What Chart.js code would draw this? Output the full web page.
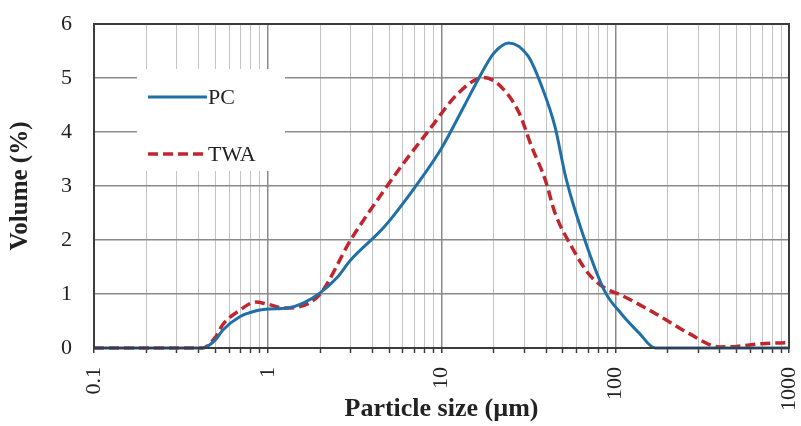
<!DOCTYPE html>
<html>
<head>
<meta charset="utf-8">
<script src="https://cdn.jsdelivr.net/npm/chart.js@4.4.1/dist/chart.umd.min.js"></script>
<style>
  html, body { margin: 0; padding: 0; background: #fff; }
  #wrap { width: 801px; height: 426px; position: relative; }
</style>
</head>
<body>
<div id="wrap"><canvas id="psd"></canvas></div>
<script>
// particle size distribution
const pcSize = [0.1, 0.2, 0.3, 0.42, 0.5, 0.55, 0.69, 0.86, 1.0, 1.3, 1.6, 2.0, 2.5, 3.0, 4.7, 7.3, 10, 13.6, 17, 20, 24.4, 31.6, 37.8, 45, 52, 70, 88, 108, 137, 170, 250, 500, 1000];
const pcVolume = [0, 0, 0, 0, 0.15, 0.33, 0.58, 0.69, 0.72, 0.74, 0.83, 1.02, 1.3, 1.63, 2.25, 3.05, 3.7, 4.5, 5.09, 5.46, 5.65, 5.4, 4.84, 4.1, 3.15, 1.81, 1.02, 0.64, 0.28, 0, 0, 0, 0];

const twaSize = [0.1, 0.2, 0.3, 0.42, 0.5, 0.55, 0.69, 0.85, 1.0, 1.25, 1.5, 2.0, 3.0, 4.7, 5.85, 8.5, 12.5, 17.5, 22, 28, 33, 39.6, 45, 56, 70, 88, 108, 170, 265, 400, 500, 700, 1000];
const twaVolume = [0, 0, 0, 0, 0.2, 0.43, 0.7, 0.85, 0.81, 0.74, 0.76, 1.0, 2.0, 2.93, 3.36, 4.04, 4.72, 5.01, 4.84, 4.35, 3.73, 3.11, 2.5, 1.88, 1.38, 1.1, 0.98, 0.64, 0.27, 0.02, 0.03, 0.08, 0.1];

const seriesNames = ["PC", "TWA"];
const xDecades = [0.1, 1, 10, 100, 1000];
const yLabels = [0, 1, 2, 3, 4, 5, 6];

const serif = "'Liberation Serif', 'Times New Roman', serif";
const blue = "#2070a8";
const red = "#c0262e";
const major = "#8a8a8a";
const minor = "#c2c2c2";

function pts(xs, ys) {
  return xs.map((x, i) => ({ x: x, y: ys[i] }));
}

function isDecade(v) {
  return xDecades.some(d => Math.abs(d - v) < 1e-9);
}

// no extra room for labels hanging over the ends
function noPad(scale) {
  scale.paddingLeft = 0;
  scale.paddingRight = 0;
  scale.paddingTop = 0;
  scale.paddingBottom = 0;
}

// frame round the plot
const frame = {
  id: "frame",
  afterDraw(chart) {
    const a = chart.chartArea, ctx = chart.ctx;
    ctx.save();
    ctx.strokeStyle = "#3c3c3c";
    ctx.lineWidth = 2;
    ctx.strokeRect(a.left, a.top, a.right - a.left, a.bottom - a.top);
    ctx.restore();
  }
};

// legend box inside the plot
const boxLegend = {
  id: "boxLegend",
  afterDraw(chart) {
    const a = chart.chartArea, ctx = chart.ctx;
    const x = a.left + 43, y = a.top + 45;
    ctx.save();
    ctx.fillStyle = "#fff";
    ctx.fillRect(x, y, 148, 102);
    chart.data.datasets.forEach((ds, i) => {
      const ly = y + 28 + i * 57;
      ctx.strokeStyle = ds.borderColor;
      ctx.lineWidth = ds.borderWidth;
      ctx.setLineDash(ds.borderDash || []);
      ctx.beginPath();
      ctx.moveTo(x + 11, ly);
      ctx.lineTo(x + 70, ly);
      ctx.stroke();
      ctx.setLineDash([]);
      ctx.fillStyle = "#222";
      ctx.font = "22px " + serif;
      ctx.textBaseline = "middle";
      ctx.fillText(ds.label, x + 71, ly + 1);
    });
    ctx.restore();
  }
};

new Chart(document.getElementById("psd"), {
  type: "line",
  data: {
    datasets: [
      {
        label: seriesNames[0],
        data: pts(pcSize, pcVolume),
        borderColor: blue,
        borderWidth: 3,
        pointRadius: 0,
        cubicInterpolationMode: "monotone",
        clip: 5
      },
      {
        label: seriesNames[1],
        data: pts(twaSize, twaVolume),
        borderColor: red,
        borderWidth: 3.5,
        borderDash: [10, 5],
        pointRadius: 0,
        cubicInterpolationMode: "monotone",
        clip: 5
      }
    ]
  },
  options: {
    responsive: true,
    maintainAspectRatio: false,
    animation: false,
    layout: { padding: { left: 6, right: 12, top: 24, bottom: 1 } },
    plugins: {
      legend: { display: false },
      tooltip: { enabled: false }
    },
    scales: {
      x: {
        type: "logarithmic",
        min: 0.1,
        max: 1000,
        afterBuildTicks(scale) {
          const t = [];
          for (let e = -1; e < 3; e++) {
            for (let k = 1; k < 10; k++) t.push({ value: Number((k * Math.pow(10, e)).toPrecision(3)) });
          }
          t.push({ value: 1000 });
          scale.ticks = t;
        },
        afterFit(scale) { scale.height = 77; noPad(scale); },
        grid: {
          color: c => isDecade(c.tick.value) ? major : minor,
          lineWidth: c => isDecade(c.tick.value) ? 1.5 : 1,
          drawTicks: true,
          tickLength: 5,
          tickColor: "#3c3c3c",
          tickWidth: 1.5
        },
        border: { display: false },
        ticks: {
          autoSkip: false,
          minRotation: 90,
          maxRotation: 90,
          padding: 14,
          color: "#222",
          font: { family: serif, size: 22 },
          callback: v => isDecade(v) ? String(v) : ""
        },
        title: {
          display: true,
          text: "Particle size (µm)",
          color: "#222",
          font: { family: serif, size: 26, weight: "bold" },
          padding: { top: 0, bottom: 0 }
        }
      },
      y: {
        min: 0,
        max: 6,
        afterFit(scale) { scale.width = 88; noPad(scale); },
        grid: {
          color: c => Number.isInteger(c.tick.value) ? major : minor,
          lineWidth: c => Number.isInteger(c.tick.value) ? 1.5 : 1,
          drawTicks: false
        },
        border: { display: false },
        ticks: {
          stepSize: 0.5,
          padding: 22,
          color: "#222",
          font: { family: serif, size: 22 },
          callback: v => yLabels.includes(v) ? String(v) : ""
        },
        title: {
          display: true,
          text: "Volume (%)",
          color: "#222",
          font: { family: serif, size: 25, weight: "bold" },
          padding: { top: 0, bottom: 0 }
        }
      }
    }
  },
  plugins: [frame, boxLegend]
});
</script>
</body>
</html>
